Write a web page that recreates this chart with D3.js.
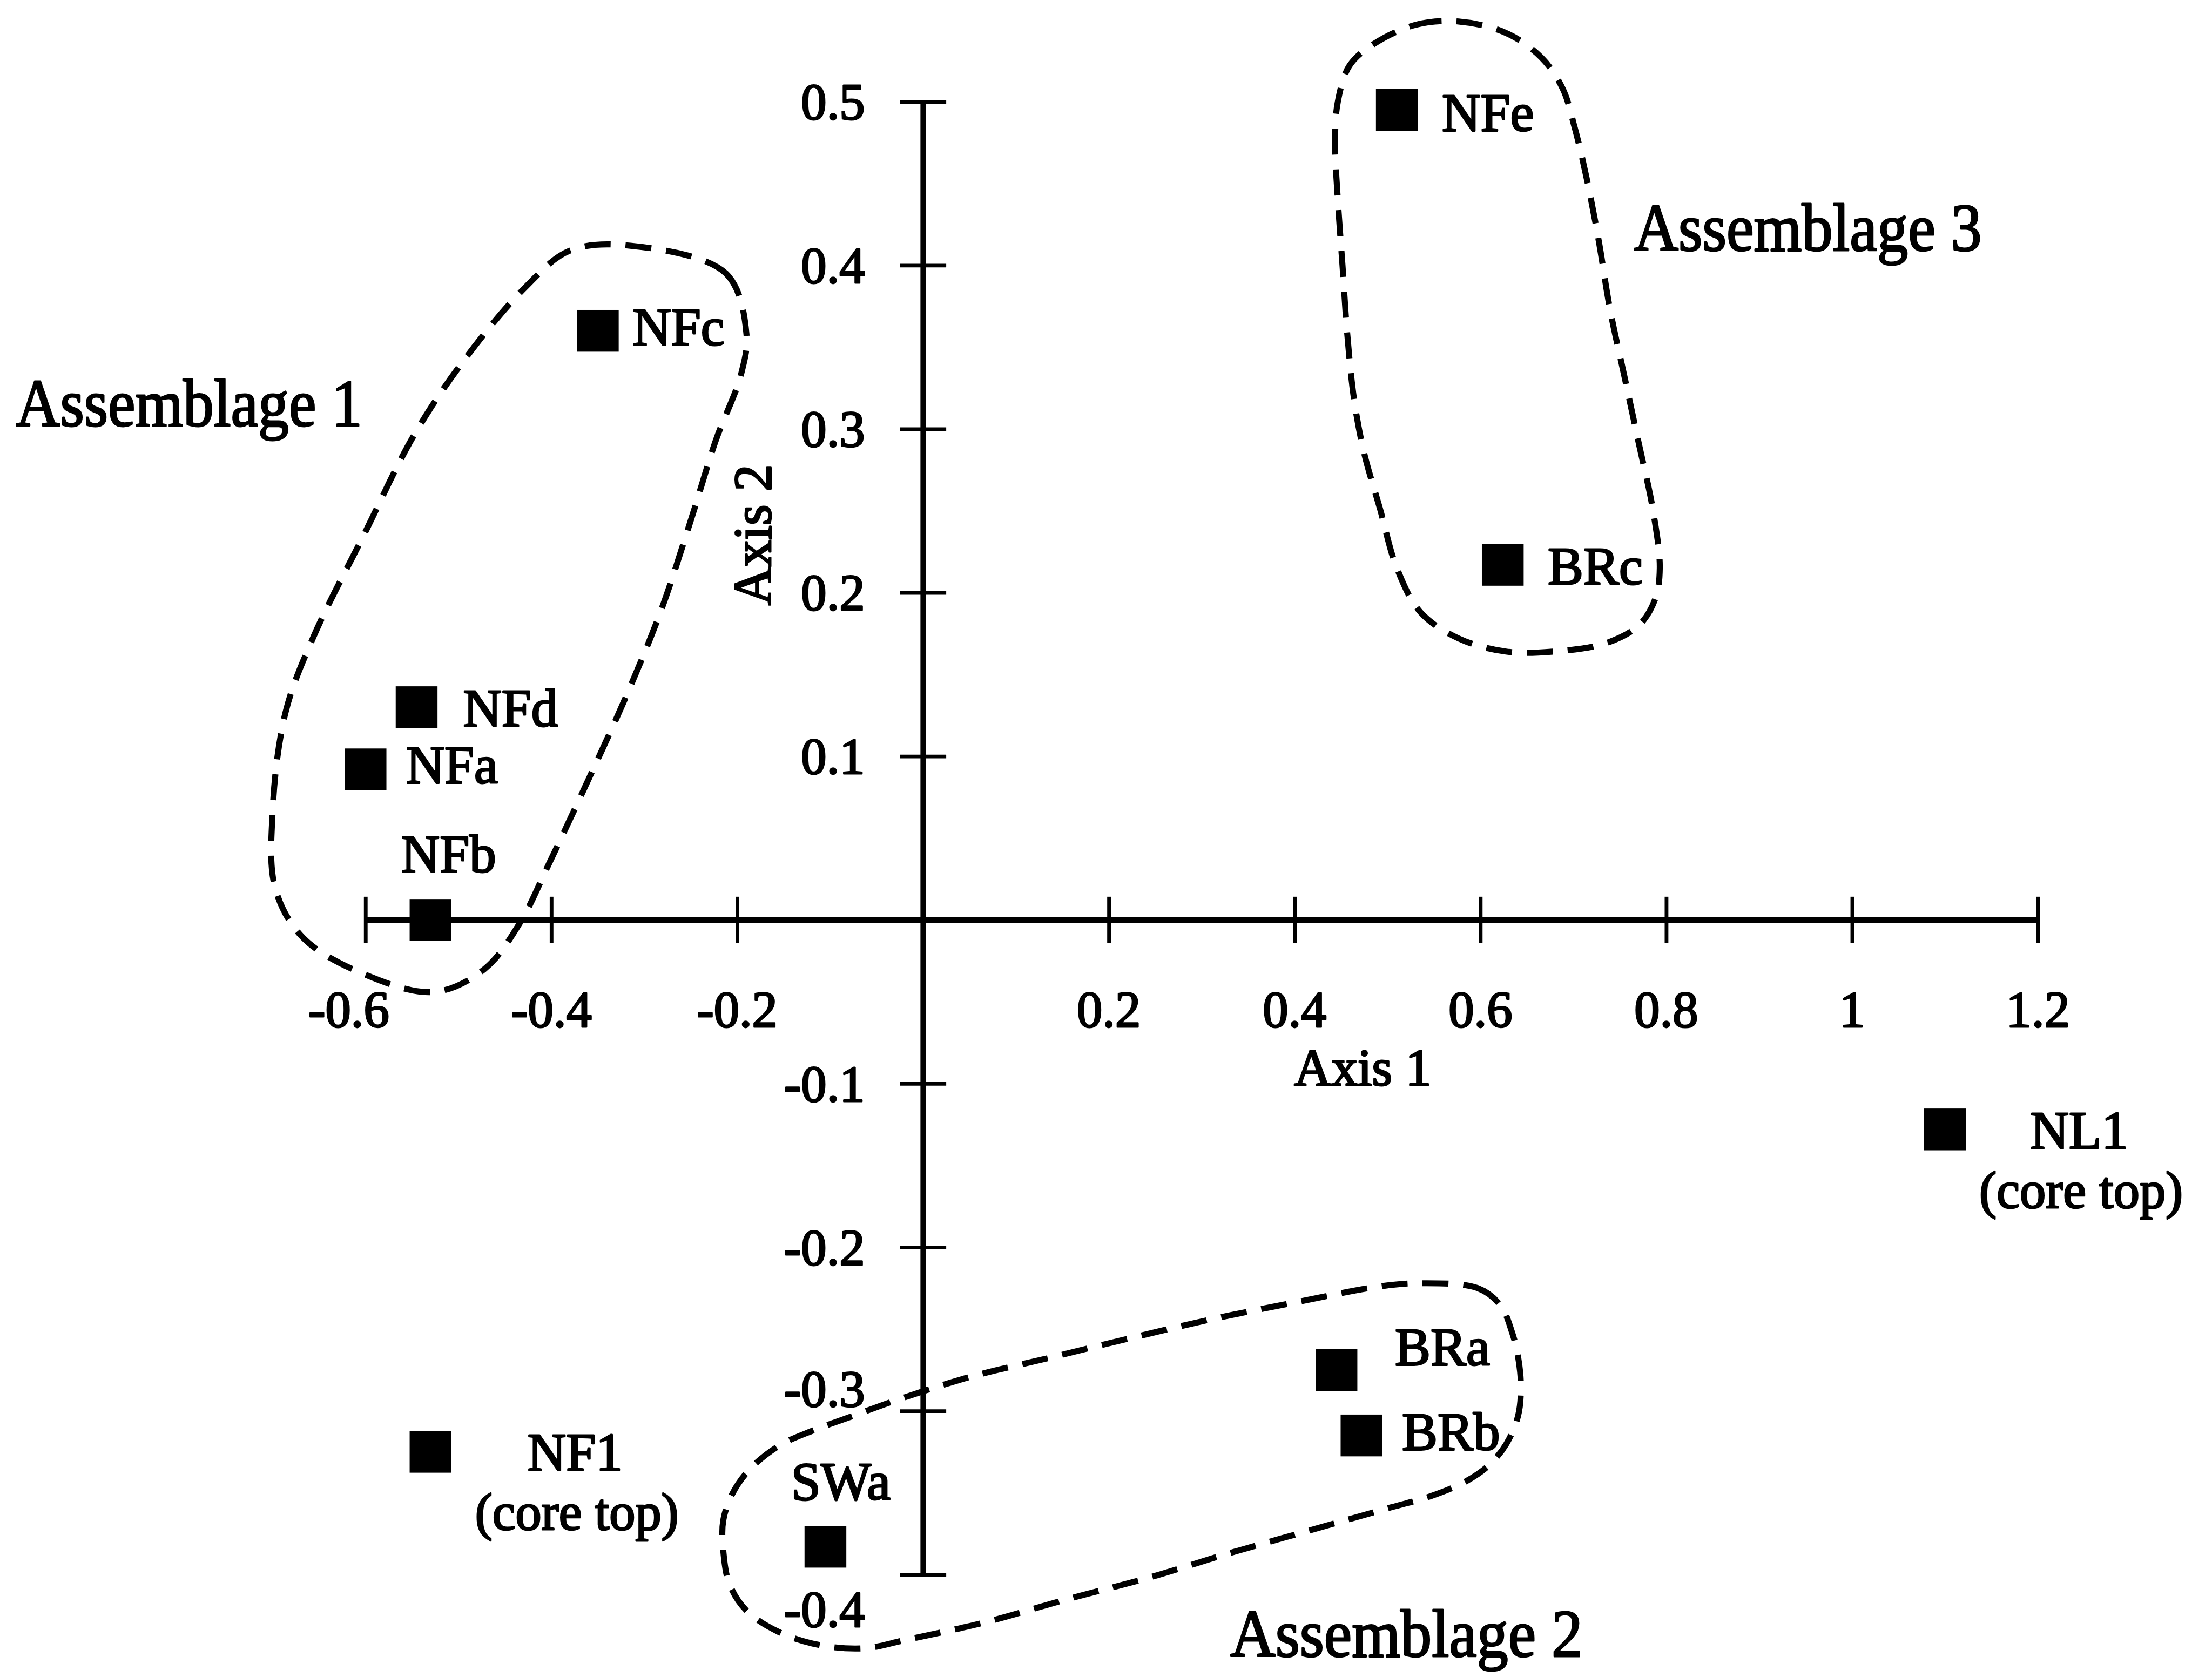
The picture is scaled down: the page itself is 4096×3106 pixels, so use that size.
<!DOCTYPE html>
<html>
<head>
<meta charset="utf-8">
<script src="https://cdn.jsdelivr.net/npm/d3@7"></script>
<style>
  html, body { margin: 0; padding: 0; background: #ffffff; }
  svg { display: block; }
  text {
    font-family: "Liberation Serif", "Times New Roman", serif;
    fill: #000; stroke: #000; stroke-width: 3.5; stroke-linejoin: round;
  }
</style>
</head>
<body>
<svg id="chart" width="4096" height="3106"></svg>
<script>
// Ordination scores of the samples on the first two axes
const sampleNames = ["NFa", "NFb", "NFc", "NFd", "NFe", "BRa", "BRb", "BRc", "SWa", "NF1", "NL1"];
const axis1Scores = [-0.600, -0.530, -0.350, -0.545, 0.510, 0.445, 0.472, 0.624, -0.105, -0.530, 1.100];
const axis2Scores = [0.092, 0.000, 0.360, 0.130, 0.495, -0.275, -0.315, 0.217, -0.383, -0.325, -0.128];
const sampleNotes = ["", "", "", "", "", "", "", "", "", "(core top)", "(core top)"];

// Axis ticks
const axis1Ticks = [-0.6, -0.4, -0.2, 0, 0.2, 0.4, 0.6, 0.8, 1, 1.2];
const axis2Ticks = [-0.4, -0.3, -0.2, -0.1, 0, 0.1, 0.2, 0.3, 0.4, 0.5];
const axis1Title = "Axis 1";
const axis2Title = "Axis 2";

// Assemblage groupings, outlined in score space
const groupNames = ["Assemblage 1", "Assemblage 2", "Assemblage 3"];
const assemblage1Outline = [
  [-0.315, 0.412], [-0.212, 0.395], [-0.190, 0.358], [-0.196, 0.333], [-0.223, 0.293],
  [-0.250, 0.244], [-0.282, 0.189], [-0.320, 0.136], [-0.364, 0.081], [-0.402, 0.035],
  [-0.434, -0.002], [-0.472, -0.030], [-0.526, -0.044], [-0.602, -0.033], [-0.667, -0.011],
  [-0.697, 0.019], [-0.700, 0.066], [-0.686, 0.127], [-0.656, 0.173], [-0.602, 0.235],
  [-0.548, 0.296], [-0.494, 0.342], [-0.429, 0.386], [-0.380, 0.409]
];
const assemblage2Outline = [
  [0.5345, -0.222], [0.597, -0.225], [0.6215, -0.2355], [0.634, -0.252], [0.6405, -0.267],
  [0.6435, -0.285], [0.6405, -0.303], [0.628, -0.320], [0.6095, -0.333], [0.5845, -0.343],
  [0.547, -0.352], [0.5035, -0.359], [0.4165, -0.373], [0.3295, -0.387], [0.2425, -0.402],
  [0.1555, -0.415], [0.068, -0.429], [-0.019, -0.440], [-0.0625, -0.445], [-0.112, -0.443],
  [-0.1555, -0.435], [-0.190, -0.422], [-0.2085, -0.4055], [-0.215, -0.385], [-0.215, -0.367],
  [-0.2055, -0.351], [-0.187, -0.336], [-0.1555, -0.3215], [-0.1185, -0.312], [-0.075, -0.303],
  [-0.0315, -0.294], [0.049, -0.2795], [0.1365, -0.2675], [0.2235, -0.2555], [0.3105, -0.244],
  [0.398, -0.234], [0.491, -0.224]
];
const assemblage3Outline = [
  [0.4845, 0.535], [0.5305, 0.547], [0.5765, 0.549], [0.6275, 0.542], [0.6655, 0.527],
  [0.6885, 0.508], [0.7015, 0.484], [0.714, 0.454], [0.727, 0.416], [0.7395, 0.373],
  [0.755, 0.332], [0.7705, 0.291], [0.7855, 0.251], [0.793, 0.215], [0.788, 0.196],
  [0.7705, 0.180], [0.7345, 0.169], [0.6785, 0.164], [0.6275, 0.164], [0.5765, 0.172],
  [0.5355, 0.188], [0.510, 0.215], [0.492, 0.251], [0.4745, 0.286], [0.464, 0.318],
  [0.4565, 0.359], [0.4515, 0.400], [0.4465, 0.440], [0.4435, 0.476], [0.4465, 0.500],
  [0.459, 0.522]
];

// ---- drawing (layout in a 4760 x 3610 frame, scaled to the window) ----
const svg = d3.select("#chart");
svg.append("rect").attr("width", 4096).attr("height", 3106).attr("fill", "#fff");
const g = svg.append("g").attr("transform", "scale(0.86)");

const x = d3.scaleLinear().domain([-0.6, 1.2]).range([787, 4388]);
const y = d3.scaleLinear().domain([-0.4, 0.5]).range([3391, 219]);

const tickLabel = v => (v === 0 ? "" : String(v));

// Group outlines (dashed)
const outline = d3.line()
  .x(d => x(d[0]))
  .y(d => y(d[1]))
  .curve(d3.curveCatmullRomClosed.alpha(0.5));

g.append("g").attr("class", "groups")
  .selectAll("path")
  .data([assemblage1Outline, assemblage2Outline, assemblage3Outline])
  .join("path")
  .attr("d", outline)
  .attr("fill", "none")
  .attr("stroke", "#000")
  .attr("stroke-width", 13)
  .attr("stroke-dasharray", "56 32");

// Horizontal axis through the origin, ticks crossing the line
const xAxis = g.append("g")
  .attr("transform", `translate(0,${y(0)})`)
  .call(d3.axisBottom(x).tickValues(axis1Ticks).tickSizeOuter(0).tickFormat(""));
xAxis.select(".domain").attr("stroke-width", 12);
xAxis.selectAll(".tick line").attr("y1", -50).attr("y2", 50).attr("stroke-width", 8);
xAxis.selectAll(".tick text").remove();

// Vertical axis through the origin
const yAxis = g.append("g")
  .attr("transform", `translate(${x(0)},0)`)
  .call(d3.axisLeft(y).tickValues(axis2Ticks).tickSizeOuter(0).tickFormat(""));
yAxis.select(".domain").attr("stroke-width", 12);
yAxis.selectAll(".tick line").attr("x1", 50).attr("x2", -50).attr("stroke-width", 8);
yAxis.selectAll(".tick text").remove();

// Tick labels
const xLabelNudge = { "-0.6": -36 };
g.append("g").selectAll("text")
  .data(axis1Ticks.filter(v => v !== 0))
  .join("text")
  .attr("x", d => x(d) + (xLabelNudge[String(d)] || 0))
  .attr("y", y(0) + 230)
  .attr("text-anchor", "middle")
  .attr("font-size", 110)
  .text(tickLabel);

const yLabelNudge = { "-0.3": -48, "-0.4": 74 };
g.append("g").selectAll("text")
  .data(axis2Ticks.filter(v => v !== 0))
  .join("text")
  .attr("x", x(0) - 125)
  .attr("y", d => y(d) + 38 + (yLabelNudge[String(d)] || 0))
  .attr("text-anchor", "end")
  .attr("font-size", 110)
  .text(tickLabel);

// Axis titles
g.append("text")
  .attr("x", 2934).attr("y", 2337)
  .attr("text-anchor", "middle")
  .attr("font-size", 112)
  .text(axis1Title);
g.append("text")
  .attr("transform", "translate(1659,1152) rotate(-90)")
  .attr("text-anchor", "middle")
  .attr("font-size", 115)
  .text(axis2Title);

// Sample markers
const samples = sampleNames.map((name, i) => ({
  name, a1: axis1Scores[i], a2: axis2Scores[i], note: sampleNotes[i]
}));
const box = 90;
g.append("g").selectAll("rect")
  .data(samples)
  .join("rect")
  .attr("x", d => x(d.a1) - box / 2)
  .attr("y", d => y(d.a2) - box / 2)
  .attr("width", box)
  .attr("height", box)
  .attr("fill", "#000");

// Sample labels, placed beside or above each marker
const labelPlace = {
  NFa: { dx: 87, dy: 29, anchor: "start" },
  NFb: { dx: 39, dy: -103, anchor: "middle" },
  NFc: { dx: 75, dy: 31, anchor: "start" },
  NFd: { dx: 100, dy: 41, anchor: "start" },
  NFe: { dx: 97, dy: 45, anchor: "start" },
  BRa: { dx: 126, dy: -11, anchor: "start" },
  BRb: { dx: 87, dy: 31, anchor: "start" },
  BRc: { dx: 97, dy: 42, anchor: "start" },
  SWa: { dx: 33, dy: -102, anchor: "middle" },
  NF1: { dx: 311, dy: 40, anchor: "middle" },
  NL1: { dx: 289, dy: 41, anchor: "middle" }
};
g.append("g").selectAll("text")
  .data(samples)
  .join("text")
  .attr("x", d => x(d.a1) + labelPlace[d.name].dx)
  .attr("y", d => y(d.a2) + labelPlace[d.name].dy)
  .attr("text-anchor", d => labelPlace[d.name].anchor)
  .attr("font-size", 115)
  .text(d => d.name);

// second line under the core-top samples
g.append("g").selectAll("text")
  .data(samples.filter(d => d.note))
  .join("text")
  .attr("x", d => x(d.a1) + labelPlace[d.name].dx + 4)
  .attr("y", d => y(d.a2) + labelPlace[d.name].dy + 128)
  .attr("text-anchor", "middle")
  .attr("font-size", 112)
  .text(d => d.note);

// Group names (set in a slightly condensed face)
const groupLabelPos = [[34, 917], [2649, 3567], [3518, 540]];
const groupLabelWidth = [746, 759, 749];
g.append("g").selectAll("text")
  .data(groupNames)
  .join("text")
  .attr("x", (d, i) => groupLabelPos[i][0])
  .attr("y", (d, i) => groupLabelPos[i][1])
  .attr("font-size", 146)
  .attr("textLength", (d, i) => groupLabelWidth[i])
  .attr("lengthAdjust", "spacingAndGlyphs")
  .text(d => d);
</script>
</body>
</html>
